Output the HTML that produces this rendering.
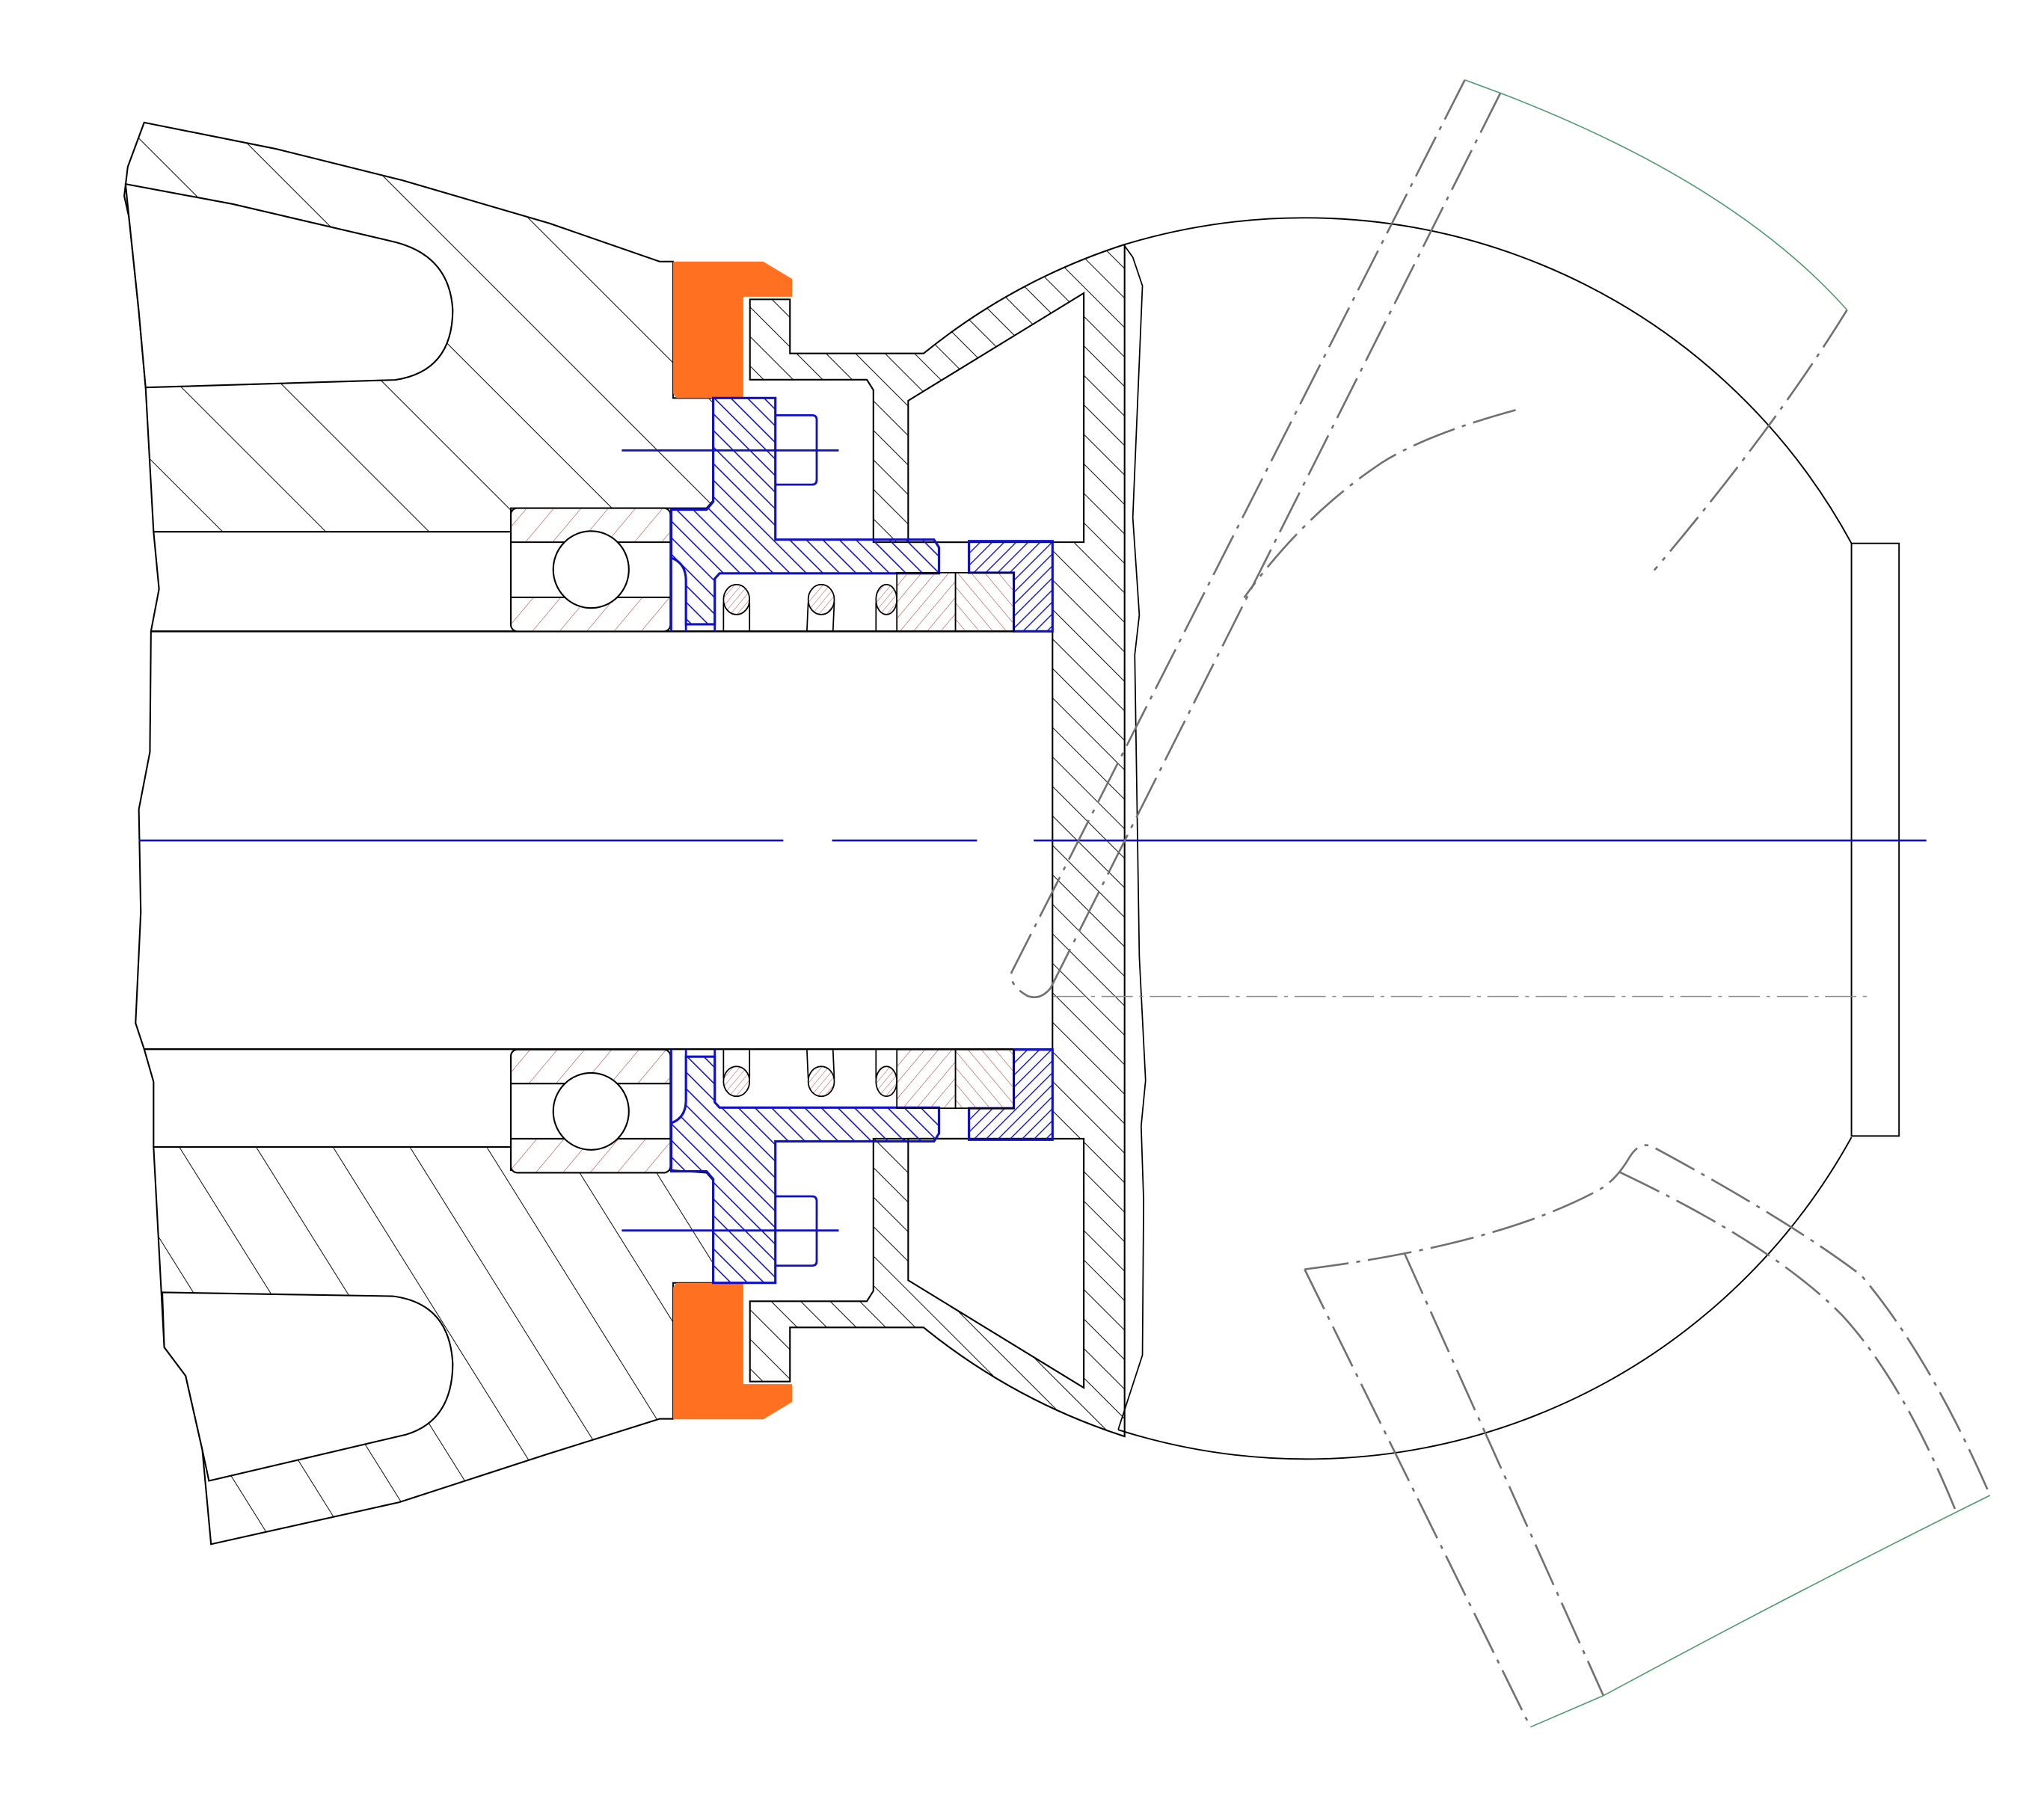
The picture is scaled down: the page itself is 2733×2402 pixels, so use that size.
<!DOCTYPE html>
<html><head><meta charset="utf-8"><style>
html,body{margin:0;padding:0;background:#fff;}
svg{display:block;}
</style></head><body>
<svg width="2733" height="2402" viewBox="0 0 1568 1378" preserveAspectRatio="none" xmlns="http://www.w3.org/2000/svg" xmlns:xlink="http://www.w3.org/1999/xlink">
<defs>
<pattern id="hbT" patternUnits="userSpaceOnUse" width="56" height="56" patternTransform="rotate(-45)"><line x1="0" y1="0" x2="0" y2="56" stroke="#000" stroke-width="1.1"/></pattern>
<pattern id="hbB" patternUnits="userSpaceOnUse" width="50" height="50" patternTransform="rotate(-32)"><line x1="0" y1="0" x2="0" y2="50" stroke="#000" stroke-width="1.1"/></pattern>
<pattern id="hs" patternUnits="userSpaceOnUse" width="16" height="16" patternTransform="rotate(-45)"><line x1="0" y1="0" x2="0" y2="16" stroke="#000" stroke-width="1.1"/></pattern>
<pattern id="hsm" patternUnits="userSpaceOnUse" width="16" height="16" patternTransform="rotate(45)"><line x1="0" y1="0" x2="0" y2="16" stroke="#000" stroke-width="1.1"/></pattern>
<pattern id="bh" patternUnits="userSpaceOnUse" width="9" height="9" patternTransform="rotate(-45)"><line x1="0" y1="0" x2="0" y2="9" stroke="#1010c8" stroke-width="1.8"/></pattern>
<pattern id="bhm" patternUnits="userSpaceOnUse" width="9" height="9" patternTransform="rotate(45)"><line x1="0" y1="0" x2="0" y2="9" stroke="#1010c8" stroke-width="1.8"/></pattern>
<pattern id="bs" patternUnits="userSpaceOnUse" width="6.5" height="6.5" patternTransform="rotate(45)"><line x1="0" y1="0" x2="0" y2="6.5" stroke="#1010c8" stroke-width="1.6"/></pattern>
<pattern id="bsm" patternUnits="userSpaceOnUse" width="6.5" height="6.5" patternTransform="rotate(-45)"><line x1="0" y1="0" x2="0" y2="6.5" stroke="#1010c8" stroke-width="1.6"/></pattern>
<pattern id="rb" patternUnits="userSpaceOnUse" width="16" height="16" patternTransform="rotate(40)"><line x1="0" y1="0" x2="0" y2="16" stroke="#b03030" stroke-width="0.6"/></pattern>
<pattern id="rbm" patternUnits="userSpaceOnUse" width="16" height="16" patternTransform="rotate(-40)"><line x1="0" y1="0" x2="0" y2="16" stroke="#b03030" stroke-width="0.6"/></pattern>
<pattern id="r1" patternUnits="userSpaceOnUse" width="8" height="8" patternTransform="rotate(40)"><line x1="0" y1="0" x2="0" y2="8" stroke="#b03030" stroke-width="0.6"/></pattern>
<pattern id="r1m" patternUnits="userSpaceOnUse" width="8" height="8" patternTransform="rotate(-40)"><line x1="0" y1="0" x2="0" y2="8" stroke="#b03030" stroke-width="0.6"/></pattern>
<pattern id="r2" patternUnits="userSpaceOnUse" width="4" height="4" patternTransform="rotate(40)"><line x1="0" y1="0" x2="0" y2="4" stroke="#b03030" stroke-width="0.5"/></pattern>
<pattern id="r2m" patternUnits="userSpaceOnUse" width="4" height="4" patternTransform="rotate(-40)"><line x1="0" y1="0" x2="0" y2="4" stroke="#b03030" stroke-width="0.5"/></pattern>

<g id="half">
  <path d="M575.3,229.7 H606 V271.2 H708.5 A477,477 0 0 1 862.7,187.6 V644.85 H807.4 V416 H670 V299.3 L665,291.3 H575.3 Z" style="fill:var(--hs)" stroke="#000" stroke-width="1.2"/>
  <path d="M696.7,307.4 L831.4,224.9 V416 H696.7 Z" fill="#fff" stroke="#000" stroke-width="1.2"/>
  <path d="M516.4,200.7 H585.5 L607.6,214 V227.7 H570.2 V305.4 H519 L516.4,302 Z" fill="#ff7020"/>
  <rect x="391.9" y="389.9" width="122.4" height="94.5" rx="5" fill="#fff" stroke="#000" stroke-width="1.2"/>
  <rect x="392.5" y="390.5" width="121" height="25.5" style="fill:var(--rb)"/>
  <rect x="392.5" y="458.3" width="121" height="25.5" style="fill:var(--rb)"/>
  <line x1="391.9" y1="416" x2="514.3" y2="416" stroke="#000" stroke-width="1.2"/>
  <line x1="391.9" y1="458.3" x2="514.3" y2="458.3" stroke="#000" stroke-width="1.2"/>
  <ellipse cx="453.4" cy="437" rx="29" ry="29.5" fill="#fff" stroke="#000" stroke-width="1.2"/>
  <path d="M514.9,391 H542 L547.1,385 V305.4 H594.8 V414 H716.5 L720.3,420 V439.9 H552 L548.3,444 V479 H526.2 V445 Q526,432 514.9,428 Z" style="fill:var(--bh)" stroke="#1010c8" stroke-width="1.8"/>
  <path d="M514.9,428 V484.4 M526.2,479 V484.4 M548.3,479 V484.4" stroke="#1010c8" stroke-width="1.6" fill="none"/>
  <path d="M594.8,318.6 H623 Q626.5,318.6 626.5,322 V368 Q626.5,371.8 623,371.8 H594.8" fill="none" stroke="#1010c8" stroke-width="1.6"/>
  <line x1="477" y1="345.6" x2="643.4" y2="345.6" stroke="#1010c8" stroke-width="1.6"/>
  <path d="M743.3,415.2 H807.4 V484.4 H777.7 V439.4 H743.3 Z" style="fill:var(--bs)" stroke="#1010c8" stroke-width="1.8"/>
  <rect x="688" y="439.4" width="45" height="45" style="fill:var(--r1)" stroke="#000" stroke-width="1"/>
  <rect x="733" y="439.4" width="44.7" height="45" style="fill:var(--r1m)" stroke="#000" stroke-width="1"/>
  <g stroke="#000" stroke-width="1" style="fill:var(--r2)">
    <ellipse cx="565" cy="460" rx="10" ry="11.5"/>
    <ellipse cx="630" cy="460" rx="10" ry="11.5"/>
    <ellipse cx="680" cy="460" rx="8" ry="11.5"/>
  </g>
  <path d="M555,462 V484 M575,462 V484 M620,462 L619,484 M640,462 L639,484 M672,462 V484" stroke="#000" stroke-width="1" fill="none"/>
</g>
</defs>

<path d="M110.6,94 L211.6,114.2 L308.9,138.4 L421.6,171.4 L506.1,200.7 H516.4 V305.4 H547.1 V384 L542,389.9 H391.9 V408 H117.8 L111.7,297.3 L106.5,239 L98.9,166.5 L95.3,150.4 L98,128 Z" fill="url(#hbT)" stroke="#000" stroke-width="1.2"/>
<path d="M96.3,141.2 L178.3,156.5 L300,185 Q345,195 347.3,238 Q347,285 303,291.5 L111.7,297.3 L106.5,239 L98.9,166.5 Z" fill="#fff" stroke="#000" stroke-width="1.2"/>
<path d="M117.8,880 H391.9 V897.8 H514.3 L542,899.8 L547.1,905.7 V984.3 H516.4 V1088.6 H506.1 L419,1116 L306.3,1152.6 L161.9,1184.8 L155.2,1112.4 L142.4,1055.6 L126,1033.7 Z" fill="url(#hbB)" stroke="#000" stroke-width="1.2"/>
<path d="M124.5,991.6 L301.2,994.5 Q345,1000 347.3,1046.5 Q347,1090 311.5,1100.7 L160.3,1136.2 L155.2,1112.4 L142.4,1055.6 L126,1033.7 Z" fill="#fff" stroke="#000" stroke-width="1.2"/>

<path d="M117.8,408 L122,452 L115.8,484.4 L115,577 L106.5,621 L108,700 L104,785 L110.6,805 L117.8,830 L117.8,880" fill="none" stroke="#000" stroke-width="1.2"/>
<line x1="115.8" y1="484.4" x2="807.4" y2="484.4" stroke="#000" stroke-width="1.4"/>
<line x1="110.6" y1="805" x2="807.4" y2="805" stroke="#000" stroke-width="1.4"/>

<use xlink:href="#half" style="--hs:url(#hs);--rb:url(#rb);--bh:url(#bh);--bs:url(#bs);--r1:url(#r1);--r1m:url(#r1m);--r2:url(#r2)"/>
<use xlink:href="#half" transform="translate(0,1289.7) scale(1,-1)" style="--hs:url(#hsm);--rb:url(#rbm);--bh:url(#bhm);--bs:url(#bsm);--r1:url(#r1m);--r1m:url(#r1);--r2:url(#r2m)"/>

<path d="M862.7,188.6 L869,197.4 L876.4,219.3 L869,397 L874,471.8 L870.5,502.5 L874,734 L878.8,829 L875.4,864 L877.3,921 L876.4,1039.7 L857.8,1096.8" fill="none" stroke="#000" stroke-width="1"/>

<path d="M862.7,187.6 A477,477 0 0 1 1420.3,416.9" fill="none" stroke="#000" stroke-width="1.1"/>
<path d="M1420.3,872.6 A477,477 0 0 1 857.8,1097" fill="none" stroke="#000" stroke-width="1.1"/>
<rect x="1420.3" y="416.9" width="36.5" height="454.7" fill="none" stroke="#000" stroke-width="1.1"/>

<path d="M106.5,644.85 H600.9 M638.3,644.85 H749.5 M793,644.85 H1477.8" stroke="#1010c8" stroke-width="1.5"/>
<line x1="808" y1="764.5" x2="1436.4" y2="764.5" stroke="#888" stroke-width="0.9" stroke-dasharray="24 5 3 5"/>

<g fill="none" stroke="#707070" stroke-width="1.5" stroke-dasharray="34 6 3 6">
  <path d="M1123.7,61.3 L776,746 Q774,756 788,764 Q798,768 806,758"/>
  <path d="M1151,71.4 L806,758"/>
  <path d="M1416.9,237.8 Q1360,330 1269,437.5"/>
  <path d="M1162.7,314.6 Q1095,333 1060,355 Q1000,395 954.4,458.6"/>
  <path d="M1000.8,973.9 L1174,1325.1"/>
  <path d="M1077.4,961.6 L1230,1301"/>
  <path d="M1000.8,973.9 Q1150,955 1227.6,912.4 Q1240,905 1250,888 Q1258,875 1268,880 Q1370,935 1427.6,978.3 Q1480,1040 1526.6,1147.3"/>
  <path d="M1242.2,899.2 Q1360,955 1413,1009 Q1460,1060 1500.8,1160.5"/>
</g>
<path d="M1123.7,61.3 L1151,71.4 Q1330,140 1416.9,237.8" fill="none" stroke="#4a9a6a" stroke-width="0.9"/>
<path d="M1174,1325.1 L1230,1301 Q1380,1220 1526.6,1147.3" fill="none" stroke="#4a9a6a" stroke-width="0.9"/>
</svg>
</body></html>
